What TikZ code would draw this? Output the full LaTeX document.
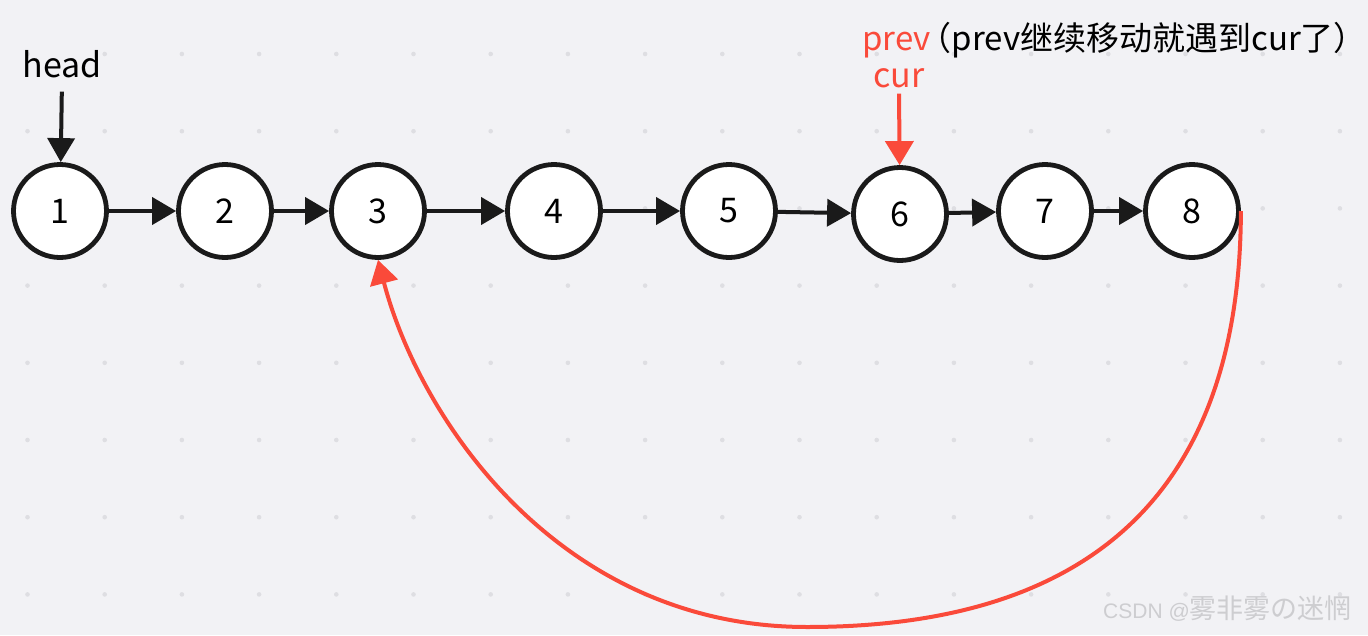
\documentclass[tikz,border=0pt]{standalone}
\usepackage{fontspec}
\setmainfont{Noto Sans CJK SC}
\newfontfamily\markfont{Liberation Sans}
\usetikzlibrary{arrows.meta}
\definecolor{bgc}{RGB}{242,242,245}
\definecolor{dotc}{RGB}{222,222,226}
\definecolor{redc}{RGB}{250,74,58}
\definecolor{inkc}{RGB}{26,26,26}
\definecolor{markc}{RGB}{205,205,208}
\tikzset{
    elem/.style={circle, draw=inkc, fill=white, line width=4.8pt, minimum size=93pt, inner sep=0pt},
    link/.style={line width=4pt, inkc, -{Triangle[length=24pt,width=27pt]}},
    redlink/.style={line width=4pt, redc, -{Triangle[length=24pt,width=28pt]}},
}
\begin{document}
\begin{tikzpicture}[x=1pt, y=-1pt, font=\fontsize{34}{40}\selectfont]
            \fill[bgc] (0,0) rectangle (1368,635);
            \useasboundingbox (0,0) rectangle (1368,635);
            \foreach \i in {0,...,17}
                \foreach \j in {0,...,7}
                    \fill[dotc] (27.5+77.2*\i, 54+77.2*\j) circle (2.3);
            \node [elem] (n1) at (60,211) {1};
            \node [elem] (n2) at (225,211) {2};
            \node [elem] (n3) at (378,211) {3};
            \node [elem] (n4) at (554,211) {4};
            \node [elem] (n5) at (729,211) {5};
            \node [elem] (n6) at (900,214) {6};
            \node [elem] (n7) at (1045,211) {7};
            \node [elem] (n8) at (1192,211) {8};
            \draw [link] (n1) -- (n2);
            \draw [link] (n2) -- (n3);
            \draw [link] (n3) -- (n4);
            \draw [link] (n4) -- (n5);
            \draw [link] (n5) -- (n6);
            \draw [link] (n6) -- (n7);
            \draw [link] (n7) -- (n8);
            \node [anchor=base, inner sep=2pt] (head) at (62,77) {head};
            \draw [link, shorten <=12pt] (head.south) -- (n1);
            \node [anchor=base west, inner sep=0pt, font=\fontsize{33}{40}\selectfont] (prev) at (862,50)
                {\textcolor{redc}{prev}\kern-12pt（prev继续移动就遇到cur了）};
            \node [anchor=base, inner sep=2pt, text=redc] (cur) at (899,87) {cur};
            \draw [redlink, shorten <=4pt] (cur.south) -- (n6);
            % back link from 8 to 3
            \coordinate (bend) at (807,627);
            \draw [redlink] (n8.east) .. controls (1240,520) and (1060,627) .. (bend)
                .. controls (560,627) and (420,420) .. (n3.south);
            \node [anchor=base west, inner sep=0pt, text=markc] (mark) at (1103,618)
                {\fontsize{21}{24}\markfont CSDN @\fontsize{27}{30}\rmfamily 雾非雾の迷惘};
        \end{tikzpicture}
\end{document}
